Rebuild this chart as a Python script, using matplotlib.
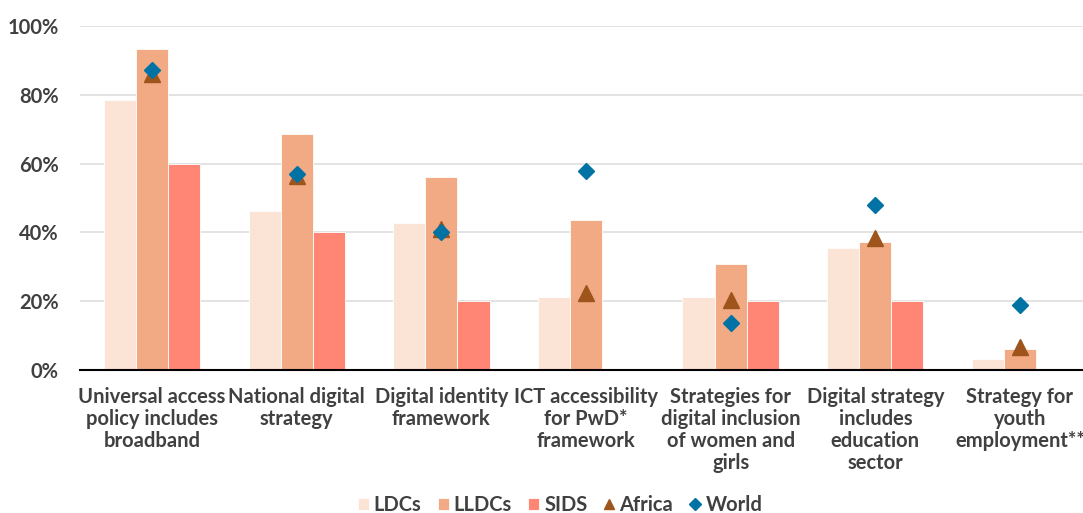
import numpy as np
import matplotlib.pyplot as plt
from matplotlib.ticker import PercentFormatter

plt.rcParams['font.family'] = ['Lato', 'DejaVu Sans']
plt.rcParams['font.weight'] = 'bold'

categories = ['Universal access\npolicy includes\nbroadband', 'National digital\nstrategy',
              'Digital identity\nframework', 'ICT accessibility\nfor PwD*\nframework',
              'Strategies for\ndigital inclusion\nof women and\ngirls',
              'Digital strategy\nincludes\neducation\nsector', 'Strategy for\nyouth\nemployment**']
ldcs = [78.4, 46.1, 42.7, 21.2, 21.2, 35.5, 3.3]
lldcs = [93.5, 68.6, 56.1, 43.5, 30.9, 37.3, 6.0]
sids = [60.0, 40.0, 20.0, 0.0, 20.0, 20.0, 0.0]
africa = [86.0, 56.3, 41.0, 22.3, 20.2, 38.4, 6.6]
world = [87.3, 56.9, 40.0, 57.8, 13.7, 48.0, 19.0]

text_col = '#404040'
fig = plt.figure(figsize=(10.83, 5.13), dpi=100)
ax = fig.add_axes([0.0736, 0.279, 0.935, 0.67])

x = np.arange(len(categories))
w = 0.222
b1 = ax.bar(x - w, ldcs, w, color='#FBE3D6', edgecolor='white', linewidth=0.6, label='LDCs', zorder=2)
b2 = ax.bar(x, lldcs, w, color='#F1AA84', edgecolor='white', linewidth=0.6, label='LLDCs', zorder=2)
b3 = ax.bar(x + w, sids, w, color='#FF8675', edgecolor='white', linewidth=0.6, label='SIDS', zorder=2)
m1, = ax.plot(x, africa, linestyle='none', marker='^', markersize=11, color='#9E541A', label='Africa', zorder=3)
m2, = ax.plot(x, world, linestyle='none', marker='D', markersize=8.5, color='#0072A3', label='World', zorder=4)

ax.set_xlim(-0.5, 6.5)
ax.set_ylim(0, 100)
ax.set_yticks(np.arange(0, 101, 20))
ax.yaxis.set_major_formatter(PercentFormatter(decimals=0))
ax.set_xticks(x)
ax.set_xticklabels(categories, fontsize=14.5, color=text_col, linespacing=1.13)
ax.tick_params(axis='y', labelsize=14.5, labelcolor=text_col, length=0, pad=15)
ax.tick_params(axis='x', length=0, pad=12)
ax.grid(axis='y', color='#E0E0E0', linewidth=1.3, zorder=0)
for s in ['top', 'right', 'left']:
    ax.spines[s].set_visible(False)
ax.spines['bottom'].set_linewidth(1.5)
ax.spines['bottom'].set_zorder(5)

leg = fig.legend([b1, b2, b3, m1, m2], ['LDCs', 'LLDCs', 'SIDS', 'Africa', 'World'],
                 loc='center', bbox_to_anchor=(560 / 1083, 1 - 505 / 513),
                 ncol=5, frameon=False, fontsize=14.5, handlelength=0.55, handleheight=0.55,
                 handletextpad=0.25, columnspacing=0.8, borderaxespad=0, borderpad=0,
                 markerscale=0.7)
for t in leg.get_texts():
    t.set_color(text_col)

fig.savefig('out.png', dpi=100)
